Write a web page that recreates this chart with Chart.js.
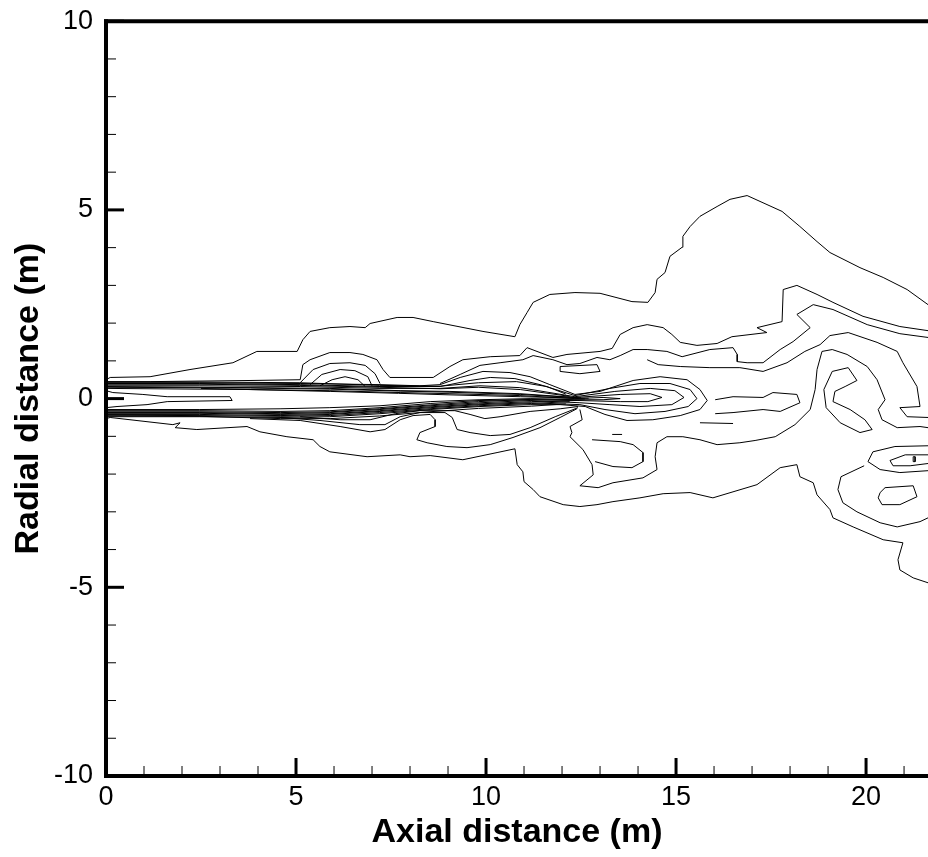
<!DOCTYPE html>
<html>
<head>
<meta charset="utf-8">
<script src="https://cdn.jsdelivr.net/npm/chart.js@4.4.1/dist/chart.umd.min.js"></script>
<style>
html,body{margin:0;padding:0;background:#fff;}
#wrap{width:928px;height:857px;}
</style>
</head>
<body>
<div id="wrap"><canvas id="c" width="928" height="857"></canvas></div>
<script>
// Axis ticks
const xMajorTicks = [0, 5, 10, 15, 20];
const xMinorTicks = [1, 2, 3, 4, 6, 7, 8, 9, 11, 12, 13, 14, 16, 17, 18, 19, 21];
const yMajorTicks = [-10, -5, 0, 5, 10];
const yMinorTicks = [-9, -8, -7, -6, -4, -3, -2, -1, 1, 2, 3, 4, 6, 7, 8, 9];

// Contour polylines [axial m, radial m]
const outerTop = [[0,0.5],[0.11,0.56],[1.16,0.58],[2.21,0.77],[3.34,0.95],[3.97,1.25],[5.03,1.25],[5.18,1.56],[5.37,1.78],[5.89,1.88],[6.42,1.91],[6.82,1.88],[6.95,1.99],[7.66,2.15],[8.08,2.15],[8.61,2.04],[9.92,1.78],[10.76,1.64],[10.89,1.96],[11.08,2.28],[11.24,2.55],[11.68,2.76],[12.34,2.81],[13.0,2.79],[13.84,2.57],[14.26,2.55],[14.45,2.81],[14.5,3.16],[14.71,3.34],[14.84,3.77],[15.16,4.01],[15.18,4.3],[15.37,4.56],[15.63,4.83],[16.08,5.09],[16.42,5.28],[16.87,5.38],[17.79,4.96],[18.26,4.56],[18.71,4.16],[19.05,3.87],[19.84,3.47],[20.45,3.21],[21.08,2.89],[21.63,2.49]];
const outerBottom = [[0,-0.53],[0.11,-0.5],[1.76,-0.69],[1.95,-0.64],[1.82,-0.77],[2.39,-0.82],[3.71,-0.74],[4.05,-0.88],[4.76,-1.01],[5.45,-1.09],[5.63,-1.27],[5.89,-1.41],[6.87,-1.54],[7.74,-1.49],[8.0,-1.54],[8.53,-1.51],[9.39,-1.62],[10.29,-1.43],[10.76,-1.33],[10.82,-1.75],[10.97,-1.94],[11.0,-2.2],[11.24,-2.41],[11.42,-2.6],[12.03,-2.81],[12.47,-2.86],[12.92,-2.81],[13.34,-2.73],[14.05,-2.63],[14.66,-2.52],[15.37,-2.49],[15.97,-2.63],[17.13,-2.28],[17.74,-1.83],[18.18,-1.75],[18.26,-2.07],[18.61,-2.23],[18.71,-2.55],[19.05,-2.94],[19.13,-3.16],[19.66,-3.4],[20.45,-3.74],[20.97,-3.82],[20.84,-4.27],[20.89,-4.54],[21.24,-4.75],[21.63,-4.88]];
const secondUpper = [[0,0.45],[1.16,0.45],[3.79,0.48],[5.11,0.5],[5.18,0.9],[5.37,1.03],[5.89,1.22],[6.42,1.22],[6.76,1.17],[7.13,1.03],[7.29,0.77],[7.47,0.56],[8.61,0.56],[9.05,0.85],[9.39,1.03],[10.11,1.11],[10.89,1.14],[11.08,1.35],[11.76,1.09],[12.13,1.17],[13.0,1.25],[13.32,1.33],[13.53,1.7],[13.87,1.88],[14.24,1.96],[14.66,1.88],[14.89,1.7],[15.11,1.49],[15.55,1.41],[16.08,1.46],[16.47,1.64],[17.39,1.75],[17.13,1.88],[17.79,2.04],[17.82,2.89],[18.18,3.0],[18.71,2.76],[19.13,2.55],[19.92,2.18],[20.89,1.91],[21.63,1.8]];
const thirdUpper = [[8.79,0.4],[9.32,0.64],[9.84,0.88],[10.37,0.95],[10.97,1.03],[11.24,1.14],[11.76,1.03],[12.13,0.9],[12.47,0.93],[12.92,1.09],[13.26,1.03],[13.53,1.14],[13.87,1.3],[14.24,1.3],[14.76,1.25],[15.16,1.11],[15.89,1.3],[16.5,1.35],[16.61,1.17],[16.61,0.98],[16.87,0.95],[17.29,0.95],[17.74,1.3],[18.08,1.51],[18.53,1.88],[18.18,2.23],[18.61,2.49],[19.13,2.36],[20.03,1.96],[20.89,1.72],[21.63,1.62]];
const bumpA = [[5.11,0.42],[5.45,0.77],[5.89,0.93],[6.42,0.95],[6.82,0.88],[7.08,0.66],[7.21,0.4]];
const bumpB = [[5.37,0.37],[5.68,0.64],[6.16,0.77],[6.55,0.74],[6.89,0.58],[7.0,0.34]];
const bumpC = [[5.63,0.34],[5.95,0.5],[6.29,0.58],[6.63,0.5],[6.82,0.32]];
const core1 = [[0,0.42],[2.47,0.42],[5.11,0.4],[7.21,0.37],[8.26,0.34],[8.79,0.37],[9.32,0.56],[9.92,0.72],[10.63,0.69],[11.16,0.58],[11.68,0.37],[12.34,0.11],[13.0,0.19],[13.87,0.48],[14.58,0.58],[15.29,0.5],[15.63,0.24],[15.82,-0.05],[15.63,-0.29],[15.11,-0.45],[14.39,-0.56],[13.71,-0.58],[13.13,-0.42],[12.61,-0.21],[11.95,-0.16],[11.16,-0.16],[9.84,-0.21],[8.53,-0.29],[7.21,-0.4],[5.89,-0.48],[4.58,-0.5],[2.47,-0.48],[0,-0.48]];
const core2 = [[0,0.4],[2.47,0.4],[5.11,0.37],[7.21,0.32],[8.79,0.32],[9.58,0.48],[10.11,0.56],[10.76,0.53],[11.42,0.37],[12.34,0.08],[13.26,0.27],[14.05,0.4],[14.84,0.4],[15.37,0.24],[15.55,0],[15.32,-0.21],[14.71,-0.34],[13.92,-0.4],[13.13,-0.29],[12.47,-0.16],[11.16,-0.11],[9.84,-0.16],[8.53,-0.24],[7.21,-0.34],[5.89,-0.42],[4.58,-0.45],[2.47,-0.42],[0,-0.42]];
const core3 = [[0,0.34],[2.47,0.34],[5.11,0.32],[7.21,0.27],[8.79,0.27],[9.84,0.34],[10.89,0.29],[12.34,0.05],[13.39,0.19],[14.32,0.27],[14.97,0.21],[15.21,0.03],[14.89,-0.16],[14.05,-0.21],[13.26,-0.16],[12.47,-0.11],[11.16,-0.05],[9.84,-0.11],[8.53,-0.19],[7.21,-0.29],[5.89,-0.37],[4.58,-0.4],[2.47,-0.37],[0,-0.37]];
const core4 = [[0,0.32],[3.79,0.29],[5.89,0.27],[7.74,0.21],[9.05,0.19],[10.89,0.13],[12.34,0.03],[13.53,0.11],[14.32,0.13],[14.63,0.03],[14.26,-0.08],[13.53,-0.08],[12.42,-0.05],[11.16,-0.03],[9.84,-0.05],[8.53,-0.13],[7.21,-0.24],[5.89,-0.32],[4.58,-0.34],[2.47,-0.32],[0,-0.32]];
const core5 = [[0,0.27],[3.79,0.24],[5.89,0.21],[7.74,0.16],[9.05,0.13],[10.89,0.08],[12.34,0],[13.08,0.03],[13.53,0],[13.08,-0.03],[12.34,-0.03],[11.16,0],[9.84,-0.03],[8.53,-0.08],[7.21,-0.19],[5.89,-0.24],[4.58,-0.27],[2.47,-0.29],[0,-0.29]];
const upperShear1 = [[0,0.44],[2.5,0.44],[5.1,0.42],[7.2,0.35],[8.8,0.33],[9.8,0.42],[10.8,0.45],[11.6,0.32],[12.1,0.12]];
const upperShear2 = [[0,0.38],[2.5,0.38],[5.1,0.35],[7.2,0.3],[8.8,0.26],[9.8,0.3],[10.9,0.24],[12.2,0.06]];
const upperShear3 = [[0,0.3],[3.8,0.28],[5.9,0.25],[7.7,0.2],[9.0,0.17],[10.9,0.11],[12.5,0.02]];
const upperShear4 = [[2.5,0.27],[5.9,0.19],[7.7,0.14],[9.0,0.1],[10.9,0.05],[12.7,0.01]];
const lowerShear1 = [[0,-0.35],[2.5,-0.35],[4.6,-0.37],[5.9,-0.35],[7.2,-0.27],[8.5,-0.17],[9.8,-0.08],[11.2,-0.02],[12.6,-0.01]];
const lowerShear2 = [[0,-0.39],[2.5,-0.39],[4.6,-0.42],[5.9,-0.4],[7.2,-0.32],[8.5,-0.22],[9.8,-0.14],[11.2,-0.08],[12.4,-0.05]];
const lowerShear3 = [[0,-0.44],[2.5,-0.45],[4.6,-0.47],[5.9,-0.45],[7.2,-0.37],[8.5,-0.27],[9.8,-0.19],[11.2,-0.13],[12.2,-0.08]];
const lowerShear4 = [[0,-0.46],[2.5,-0.47],[4.6,-0.53],[5.9,-0.53],[7.2,-0.46],[8.5,-0.35],[9.8,-0.26],[11.2,-0.2],[12.1,-0.14]];
const innerBar = [[0,0.21],[0.18,0.16],[0.97,0.11],[1.61,0.05],[3.26,0.05],[3.32,-0.05],[1.61,-0.08],[1.08,-0.16],[0.29,-0.21],[0,-0.24]];
const fanA = [[3.79,-0.53],[5.11,-0.58],[6.16,-0.74],[6.95,-0.88],[7.34,-0.82],[7.74,-0.56],[8.08,-0.45],[8.53,-0.42],[8.66,-0.56],[8.66,-0.74],[8.26,-0.9],[8.18,-1.09],[8.45,-1.17],[8.97,-1.27],[9.5,-1.3],[10.11,-1.22],[10.71,-1.03],[11.42,-0.77],[11.95,-0.5],[12.39,-0.27]];
const fanB = [[4.58,-0.5],[5.63,-0.58],[6.68,-0.69],[7.34,-0.69],[7.74,-0.48],[8.26,-0.37],[8.92,-0.37],[9.11,-0.5],[9.24,-0.82],[9.58,-0.9],[10.11,-0.98],[10.63,-0.95],[11.16,-0.77],[11.82,-0.48],[12.42,-0.24]];
const fanC = [[5.11,-0.48],[6.16,-0.56],[6.95,-0.56],[7.61,-0.4],[8.26,-0.32],[9.18,-0.32],[9.58,-0.42],[9.97,-0.53],[10.37,-0.48],[11.16,-0.34],[11.95,-0.27],[12.42,-0.21]];
const secondLower = [[21.63,-0.77],[21.42,-0.74],[20.82,-0.77],[20.42,-0.56],[20.32,-0.29],[20.5,-0.03],[20.29,0.5],[20.03,0.85],[19.5,1.17],[19.11,1.3],[18.84,1.25],[18.71,0.77],[18.66,0.24],[18.53,-0.29],[18.13,-0.69],[17.61,-1.01],[17.08,-1.11],[16.68,-1.17],[16.08,-1.22],[15.63,-1.09],[15.18,-1.01],[14.76,-1.01],[14.5,-1.17],[14.45,-1.54],[14.5,-1.88],[14.13,-2.1],[13.34,-2.23],[12.95,-2.36],[12.47,-2.31],[12.82,-2.02],[12.79,-1.75],[12.55,-1.35],[12.21,-1.01],[12.26,-0.9],[12.21,-0.74],[12.53,-0.56],[12.47,-0.29]];
const rightOuterS = [[21.63,-0.5],[21.08,-0.48],[20.89,-0.24],[21.42,-0.21],[21.34,0.32],[20.97,0.95],[20.82,1.25],[20.29,1.49],[19.53,1.75],[19.05,1.67],[18.79,1.43],[18.39,1.25],[17.92,0.95],[17.29,0.72],[16.68,0.82],[15.89,0.82],[15.11,0.85],[14.53,0.9],[14.24,1.03]];
const rightLoop = [[19.11,0.72],[19.53,0.82],[19.76,0.48],[19.45,0.32],[19.18,0.19],[19.13,-0.08],[19.58,-0.29],[19.97,-0.56],[20.16,-0.82],[19.84,-0.9],[19.32,-0.64],[18.95,-0.24],[18.89,0.24],[19.11,0.72]];
const midLobe = [[16.03,-0.03],[16.5,0.05],[17.29,0.03],[17.55,0.16],[18.18,0.11],[18.26,-0.11],[17.74,-0.34],[17.29,-0.29],[16.5,-0.37],[16.03,-0.4]];
const dashA = [[15.63,-0.64],[16.5,-0.66]];
const dashB = [[13.32,-0.95],[13.58,-0.95]];
const lowerU = [[12.79,-1.09],[13.53,-1.14],[13.87,-1.22],[14.13,-1.43],[14.13,-1.67],[13.84,-1.83],[13.34,-1.8],[12.87,-1.67]];
const smallLoop = [[11.95,0.85],[12.92,0.9],[13.0,0.72],[12.47,0.66],[11.95,0.72],[11.95,0.85]];
const hookA = [[21.63,-1.25],[20.76,-1.27],[20.18,-1.41],[20.05,-1.67],[20.37,-1.88],[20.89,-1.96],[21.63,-1.91]];
const hookB = [[21.63,-1.49],[21.03,-1.49],[20.63,-1.64],[20.71,-1.78],[21.16,-1.78],[21.63,-1.72]];
const tinyRing = [[21.24,-1.54],[21.29,-1.54],[21.29,-1.67],[21.24,-1.67],[21.24,-1.54]];
const smallOval = [[20.37,-2.49],[20.5,-2.36],[21.24,-2.31],[21.34,-2.6],[20.89,-2.81],[20.42,-2.81],[20.32,-2.63],[20.37,-2.49]];
const lowerRight = [[19.95,-1.78],[19.34,-2.07],[19.26,-2.41],[19.39,-2.76],[19.76,-3.0],[20.37,-3.29],[20.82,-3.4],[21.42,-3.26],[21.63,-3.16]];

const contours = [outerTop, outerBottom, secondUpper, thirdUpper, bumpA, bumpB, bumpC, core1, core2, core3, core4, core5,
  upperShear1, upperShear2, upperShear3, upperShear4, lowerShear1, lowerShear2, lowerShear3, lowerShear4,
  innerBar, fanA, fanB, fanC, secondLower, rightOuterS, rightLoop, midLobe, dashA, dashB, lowerU, smallLoop,
  hookA, hookB, tinyRing, smallOval, lowerRight];

const FONT = "'Liberation Sans', Arial, Helvetica, sans-serif";

const axesPlugin = {
  id: 'tecAxes',
  afterDraw(chart) {
    const ctx = chart.ctx, xs = chart.scales.x, ys = chart.scales.y, ca = chart.chartArea;
    ctx.save();
    ctx.strokeStyle = '#000';
    ctx.lineCap = 'butt';
    const seg = (x1, y1, x2, y2, w) => { ctx.lineWidth = w; ctx.beginPath(); ctx.moveTo(x1, y1); ctx.lineTo(x2, y2); ctx.stroke(); };
    xMinorTicks.forEach(v => { const p = xs.getPixelForValue(v); seg(p, ca.bottom, p, ca.bottom - 10, 1); });
    xMajorTicks.forEach(v => { const p = xs.getPixelForValue(v); seg(p, ca.bottom, p, ca.bottom - 18, 3); });
    yMinorTicks.forEach(v => { const p = ys.getPixelForValue(v); seg(ca.left, p, ca.left + 10, p, 1); });
    yMajorTicks.forEach(v => { const p = ys.getPixelForValue(v); seg(ca.left, p, ca.left + 18, p, 3); });
    seg(ca.left - 2, ca.bottom, ca.right, ca.bottom, 4);
    seg(ca.left - 2, ca.top, ca.right, ca.top, 4);
    seg(ca.left, ca.top - 2, ca.left, ca.bottom + 2, 4);
    ctx.restore();
  }
};

new Chart(document.getElementById('c'), {
  type: 'scatter',
  data: {
    datasets: contours.map(c => ({
      data: c.map(p => ({ x: p[0], y: p[1] })),
      showLine: true,
      borderColor: '#000',
      borderWidth: 1,
      pointRadius: 0,
      tension: 0,
      fill: false
    }))
  },
  options: {
    responsive: false,
    animation: false,
    devicePixelRatio: 1,
    layout: { padding: { left: 0, right: 0, top: 18, bottom: 0 } },
    plugins: { legend: { display: false }, tooltip: { enabled: false } },
    scales: {
      x: {
        type: 'linear', min: 0, max: 21.63,
        afterFit: s => { s.height = 81; },
        grid: { display: false },
        border: { display: false },
        ticks: { stepSize: 5, includeBounds: false, autoSkip: false, maxRotation: 0, padding: -3, color: '#000', font: { family: FONT, size: 27 } },
        title: { display: true, text: 'Axial distance (m)', color: '#000', font: { family: FONT, size: 34, weight: 'bold' }, padding: { top: 0, bottom: 4 } }
      },
      y: {
        type: 'linear', min: -10, max: 10,
        afterFit: s => { s.width = 106; },
        grid: { display: false },
        border: { display: false },
        ticks: { stepSize: 5, includeBounds: false, autoSkip: false, padding: 5, color: '#000', font: { family: FONT, size: 27 } },
        title: { display: true, text: 'Radial distance (m)', color: '#000', font: { family: FONT, size: 34, weight: 'bold' }, padding: { top: 8, bottom: 0 } }
      }
    }
  },
  plugins: [axesPlugin]
});
</script>
</body>
</html>
